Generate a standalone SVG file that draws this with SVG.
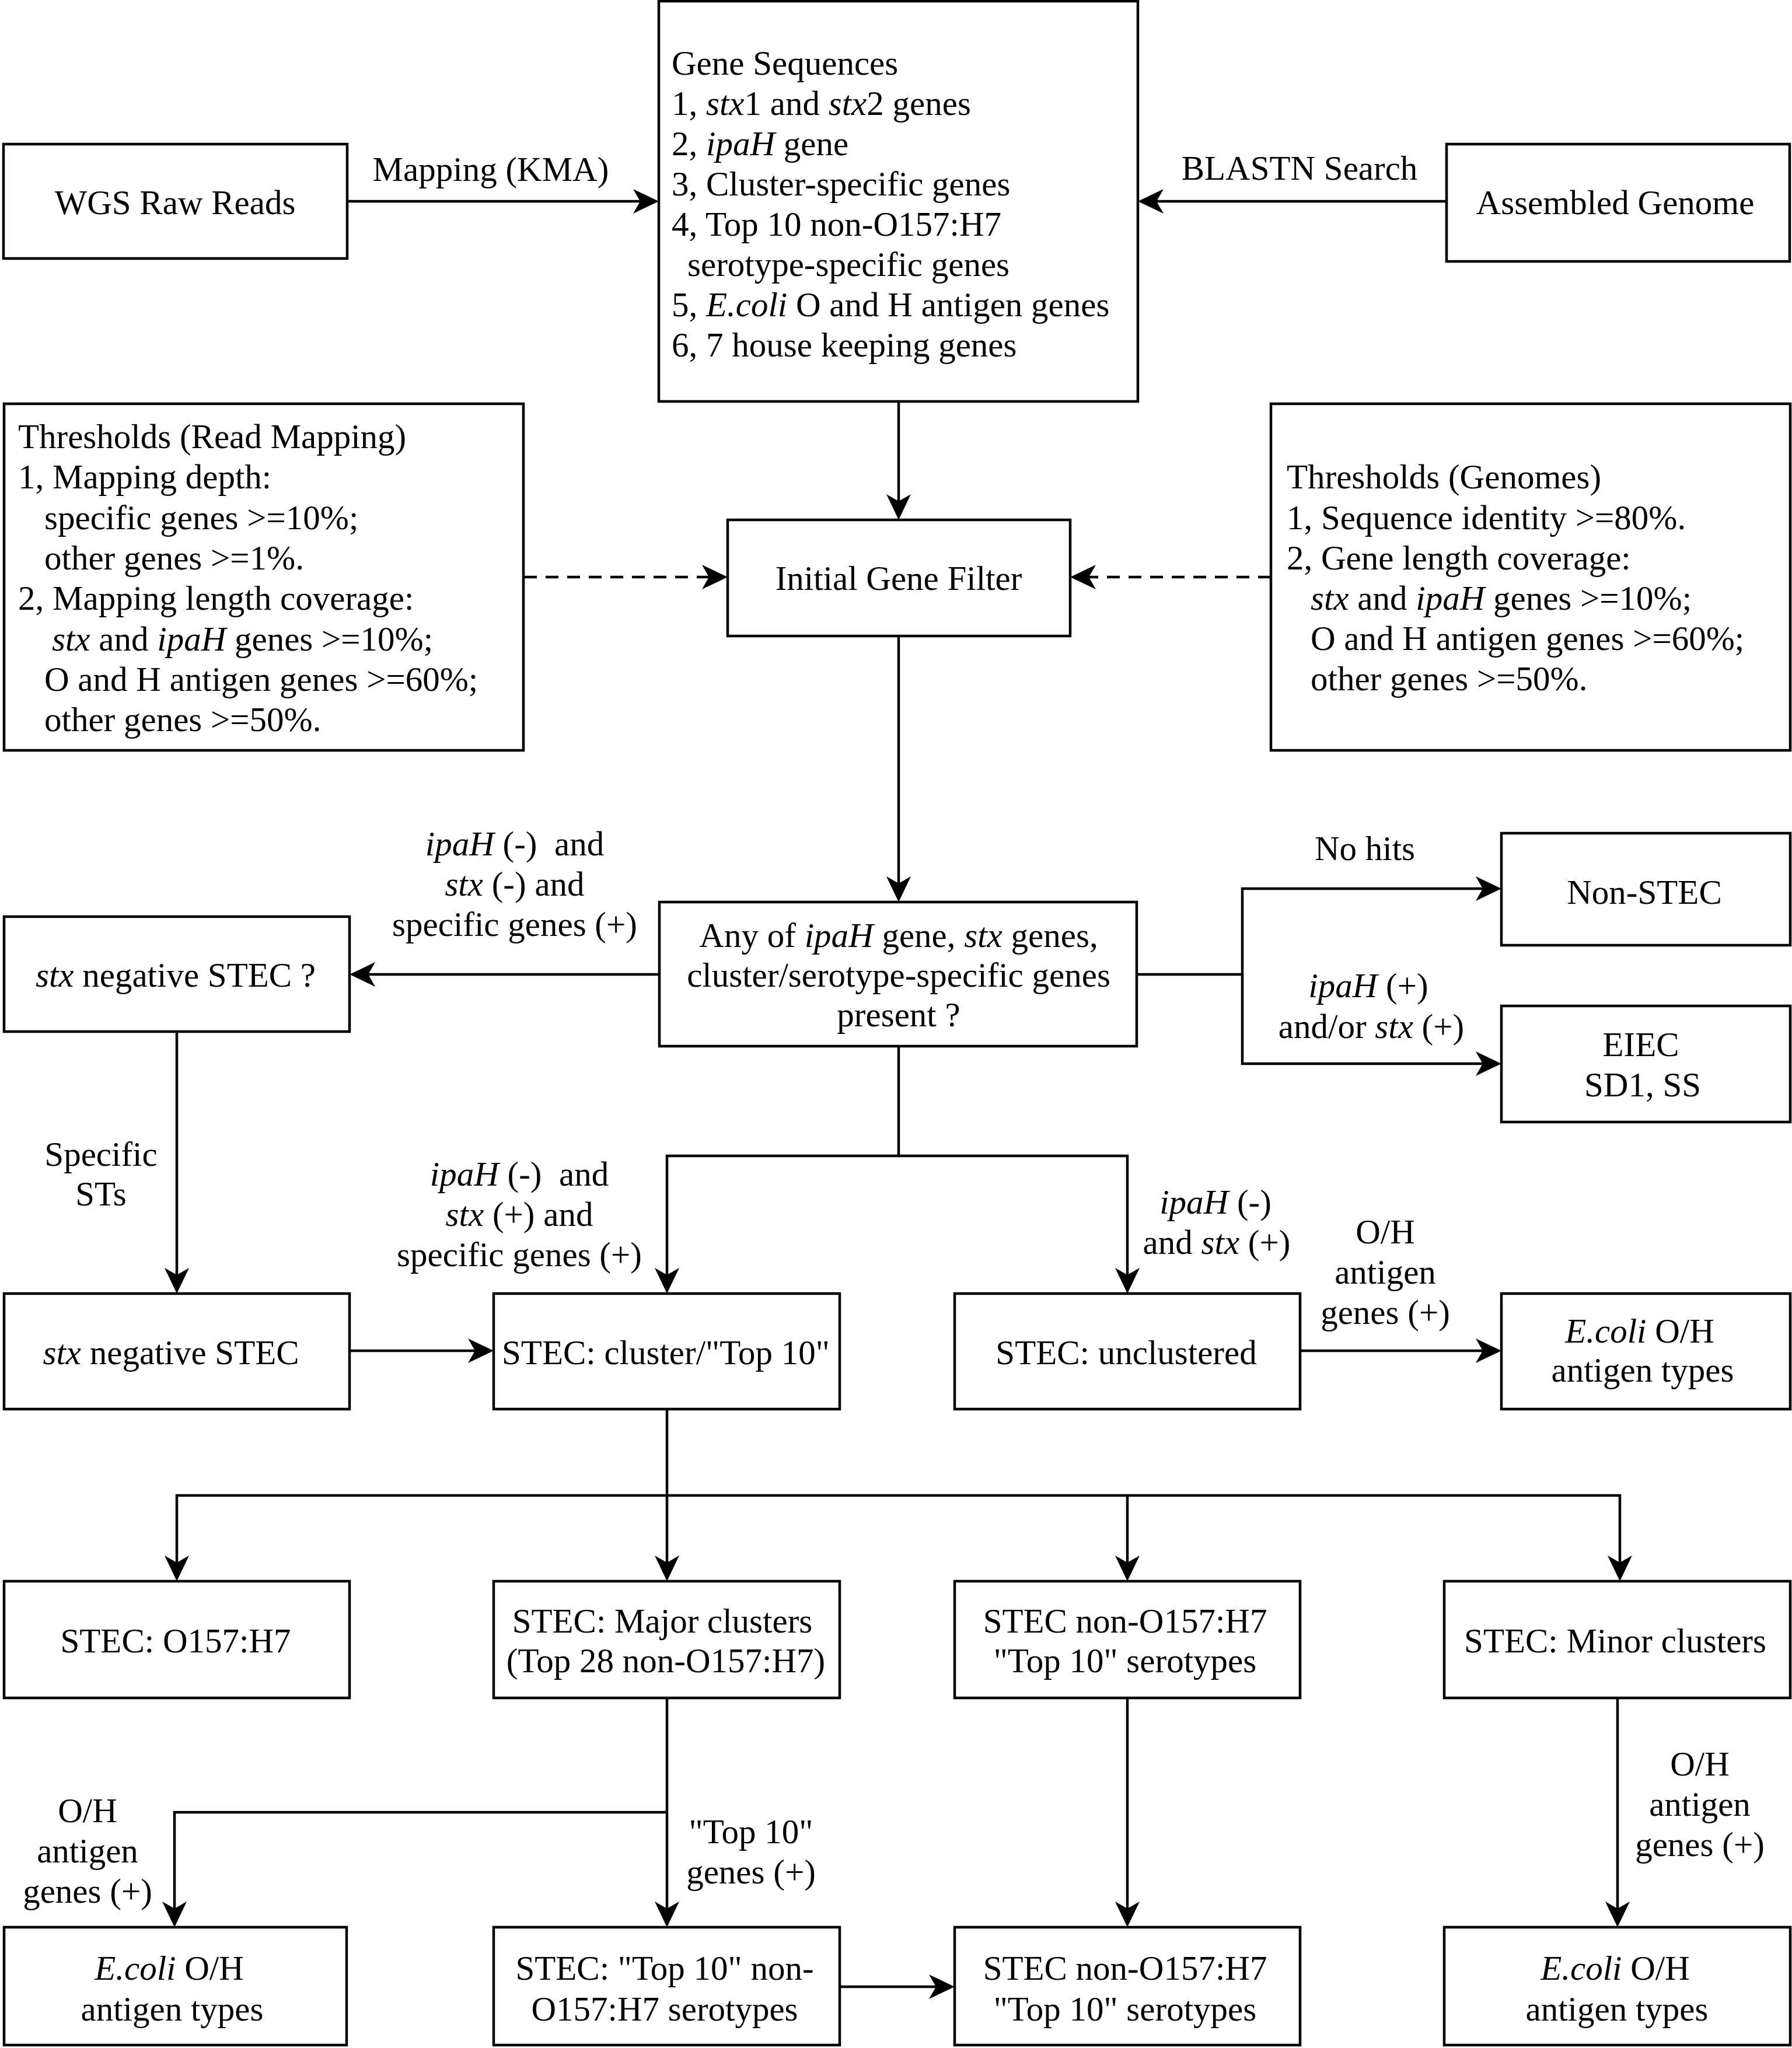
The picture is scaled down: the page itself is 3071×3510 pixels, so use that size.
<svg xmlns="http://www.w3.org/2000/svg" width="3071" height="3510" viewBox="0 0 3071 3510">
<style>
.box{fill:#fff;stroke:#000;stroke-width:4.5}
.t{font-family:"Liberation Serif","Times New Roman",serif;font-size:59px;fill:#000}
.c{text-anchor:middle}
.i{font-style:italic}
.ln{fill:none;stroke:#000;stroke-width:4.5}
.dash{stroke-dasharray:22 15}
</style>
<defs>
<marker id="ah" markerUnits="userSpaceOnUse" viewBox="-46 -23 48 46" markerWidth="48" markerHeight="46" refX="-20" refY="0" orient="auto">
<path d="M0,0 L-44,-21 L-32,0 L-44,21 Z" fill="#000"/>
</marker>
</defs>
<rect width="3071" height="3510" fill="#fff"/>

<g id="connectors">
<path class="ln" d="M595,345 H1109" marker-end="url(#ah)"/>
<path class="ln" d="M2479,345 H1970" marker-end="url(#ah)"/>
<path class="ln" d="M1540,688 V871" marker-end="url(#ah)"/>
<path class="ln dash" d="M898,989 H1227" marker-end="url(#ah)"/>
<path class="ln dash" d="M2178,989 H1854" marker-end="url(#ah)"/>
<path class="ln" d="M1540,1090 V1526" marker-end="url(#ah)"/>
<path class="ln" d="M1130,1670 H619" marker-end="url(#ah)"/>
<path class="ln" d="M1948,1670 H2129 V1523 H2553" marker-end="url(#ah)"/>
<path class="ln" d="M2129,1670 V1823 H2553" marker-end="url(#ah)"/>
<path class="ln" d="M1540,1793 V1981 H1143 V2197" marker-end="url(#ah)"/>
<path class="ln" d="M1540,1981 H1932 V2197" marker-end="url(#ah)"/>
<path class="ln" d="M303,1768 V2197" marker-end="url(#ah)"/>
<path class="ln" d="M599,2315 H826" marker-end="url(#ah)"/>
<path class="ln" d="M2228,2315 H2553" marker-end="url(#ah)"/>
<path class="ln" d="M1143,2415 V2690" marker-end="url(#ah)"/>
<path class="ln" d="M1143,2563 H303 V2690" marker-end="url(#ah)"/>
<path class="ln" d="M1143,2563 H1932 V2690" marker-end="url(#ah)"/>
<path class="ln" d="M1932,2563 H2776 V2690" marker-end="url(#ah)"/>
<path class="ln" d="M1143,2910 V3283" marker-end="url(#ah)"/>
<path class="ln" d="M1143,3106 H299 V3283" marker-end="url(#ah)"/>
<path class="ln" d="M1439,3405 H1616" marker-end="url(#ah)"/>
<path class="ln" d="M1932,2910 V3283" marker-end="url(#ah)"/>
<path class="ln" d="M2772,2910 V3283" marker-end="url(#ah)"/>

<text class="t c" x="841" y="310">Mapping (KMA)</text>
<text class="t c" x="2227" y="308">BLASTN Search</text>
<text class="t c" x="882" y="1466"><tspan class="i">ipaH</tspan> (-)&#160; and</text>
<text class="t c" x="882" y="1535"><tspan class="i">stx</tspan> (-) and</text>
<text class="t c" x="882" y="1604">specific genes (+)</text>
<text class="t c" x="2339" y="1474">No hits</text>
<text class="t c" x="2345" y="1709"><tspan class="i">ipaH</tspan> (+)</text>
<text class="t c" x="2350" y="1779">and/or <tspan class="i">stx</tspan> (+)</text>
<text class="t c" x="173" y="1998">Specific</text>
<text class="t c" x="173" y="2066">STs</text>
<text class="t c" x="890" y="2032"><tspan class="i">ipaH</tspan> (-)&#160; and</text>
<text class="t c" x="890" y="2101"><tspan class="i">stx</tspan> (+) and</text>
<text class="t c" x="890" y="2170">specific genes (+)</text>
<text class="t c" x="2083" y="2080"><tspan class="i">ipaH</tspan> (-)</text>
<text class="t c" x="2085" y="2149">and <tspan class="i">stx</tspan> (+)</text>
<text class="t c" x="2374" y="2131">O/H</text>
<text class="t c" x="2374" y="2200">antigen</text>
<text class="t c" x="2374" y="2269">genes (+)</text>
<text class="t c" x="150" y="3123">O/H</text>
<text class="t c" x="150" y="3192">antigen</text>
<text class="t c" x="150" y="3261">genes (+)</text>
<text class="t c" x="1287" y="3159">"Top 10"</text>
<text class="t c" x="1287" y="3228">genes (+)</text>
<text class="t c" x="2913" y="3043">O/H</text>
<text class="t c" x="2913" y="3112">antigen</text>
<text class="t c" x="2913" y="3181">genes (+)</text>
</g>

<g id="wgs"><rect class="box" x="6" y="247" width="589" height="196"/><text class="t c" x="300" y="367">WGS Raw Reads</text></g>
<g id="genes"><rect class="box" x="1129" y="2" width="821" height="686"/>
<text class="t" x="1151" y="128">Gene Sequences</text>
<text class="t" x="1151" y="197">1, <tspan class="i">stx</tspan>1 and <tspan class="i">stx</tspan>2 genes</text>
<text class="t" x="1151" y="266">2, <tspan class="i">ipaH</tspan> gene</text>
<text class="t" x="1151" y="335">3, Cluster-specific genes</text>
<text class="t" x="1151" y="404">4, Top 10 non-O157:H7</text>
<text class="t" x="1178" y="473">serotype-specific genes</text>
<text class="t" x="1151" y="542">5, <tspan class="i">E.coli</tspan> O and H antigen genes</text>
<text class="t" x="1151" y="611">6, 7 house keeping genes</text>
</g>
<g id="assembled"><rect class="box" x="2479" y="247" width="588" height="201"/><text class="t c" x="2768" y="367">Assembled Genome</text></g>
<g id="thr_reads"><rect class="box" x="7" y="692" width="890" height="594"/>
<text class="t" x="31" y="768">Thresholds (Read Mapping)</text>
<text class="t" x="31" y="837">1, Mapping depth:</text>
<text class="t" x="76" y="907">specific genes &gt;=10%;</text>
<text class="t" x="76" y="976">other genes &gt;=1%.</text>
<text class="t" x="31" y="1045">2, Mapping length coverage:</text>
<text class="t" x="89" y="1115"><tspan class="i">stx</tspan> and <tspan class="i">ipaH</tspan> genes &gt;=10%;</text>
<text class="t" x="76" y="1184">O and H antigen genes &gt;=60%;</text>
<text class="t" x="76" y="1253">other genes &gt;=50%.</text>
</g>
<g id="igf"><rect class="box" x="1247" y="891" width="587" height="199"/><text class="t c" x="1540" y="1011">Initial Gene Filter</text></g>
<g id="thr_genomes"><rect class="box" x="2178" y="692" width="890" height="594"/>
<text class="t" x="2205" y="837">Thresholds (Genomes)</text>
<text class="t" x="2205" y="907">1, Sequence identity &gt;=80%.</text>
<text class="t" x="2205" y="976">2, Gene length coverage:</text>
<text class="t" x="2246" y="1045"><tspan class="i">stx</tspan> and <tspan class="i">ipaH</tspan> genes &gt;=10%;</text>
<text class="t" x="2246" y="1114">O and H antigen genes &gt;=60%;</text>
<text class="t" x="2246" y="1183">other genes &gt;=50%.</text>
</g>
<g id="any"><rect class="box" x="1130" y="1546" width="818" height="247"/>
<text class="t c" x="1540" y="1623">Any of <tspan class="i">ipaH</tspan> gene, <tspan class="i">stx</tspan> genes,</text>
<text class="t c" x="1540" y="1691">cluster/serotype-specific genes</text>
<text class="t c" x="1540" y="1759">present ?</text>
</g>
<g id="stxq"><rect class="box" x="7" y="1571" width="592" height="197"/><text class="t c" x="301" y="1691"><tspan class="i">stx</tspan> negative STEC ?</text></g>
<g id="nonstec"><rect class="box" x="2573" y="1428" width="495" height="192"/><text class="t c" x="2818" y="1549">Non-STEC</text></g>
<g id="eiec"><rect class="box" x="2573" y="1724" width="495" height="199"/><text class="t c" x="2812" y="1810">EIEC</text><text class="t c" x="2815" y="1879">SD1, SS</text></g>
<g id="stxneg"><rect class="box" x="7" y="2217" width="592" height="198"/><text class="t c" x="293" y="2338"><tspan class="i">stx</tspan> negative STEC</text></g>
<g id="cluster"><rect class="box" x="846" y="2217" width="593" height="198"/><text class="t c" x="1141" y="2338">STEC: cluster/"Top 10"</text></g>
<g id="unclustered"><rect class="box" x="1636" y="2217" width="592" height="198"/><text class="t c" x="1930" y="2338">STEC: unclustered</text></g>
<g id="ecoli1"><rect class="box" x="2573" y="2217" width="495" height="198"/><text class="t c" x="2810" y="2301"><tspan class="i">E.coli</tspan> O/H</text><text class="t c" x="2815" y="2368">antigen types</text></g>
<g id="o157"><rect class="box" x="7" y="2710" width="592" height="200"/><text class="t c" x="301" y="2832">STEC: O157:H7</text></g>
<g id="major"><rect class="box" x="846" y="2710" width="593" height="200"/><text class="t c" x="1135" y="2798">STEC: Major clusters</text><text class="t c" x="1141" y="2866">(Top 28 non-O157:H7)</text></g>
<g id="nono157a"><rect class="box" x="1636" y="2710" width="592" height="200"/><text class="t c" x="1928" y="2798">STEC non-O157:H7</text><text class="t c" x="1928" y="2866">"Top 10" serotypes</text></g>
<g id="minor"><rect class="box" x="2475" y="2710" width="593" height="200"/><text class="t c" x="2768" y="2832">STEC: Minor clusters</text></g>
<g id="ecoli2"><rect class="box" x="7" y="3303" width="587" height="202"/><text class="t c" x="290" y="3393"><tspan class="i">E.coli</tspan> O/H</text><text class="t c" x="295" y="3463">antigen types</text></g>
<g id="top10"><rect class="box" x="846" y="3303" width="593" height="202"/><text class="t c" x="1139" y="3393">STEC: "Top 10" non-</text><text class="t c" x="1139" y="3463">O157:H7 serotypes</text></g>
<g id="nono157b"><rect class="box" x="1636" y="3303" width="592" height="202"/><text class="t c" x="1928" y="3393">STEC non-O157:H7</text><text class="t c" x="1928" y="3463">"Top 10" serotypes</text></g>
<g id="ecoli3"><rect class="box" x="2475" y="3303" width="593" height="202"/><text class="t c" x="2768" y="3393"><tspan class="i">E.coli</tspan> O/H</text><text class="t c" x="2771" y="3463">antigen types</text></g>
</svg>
